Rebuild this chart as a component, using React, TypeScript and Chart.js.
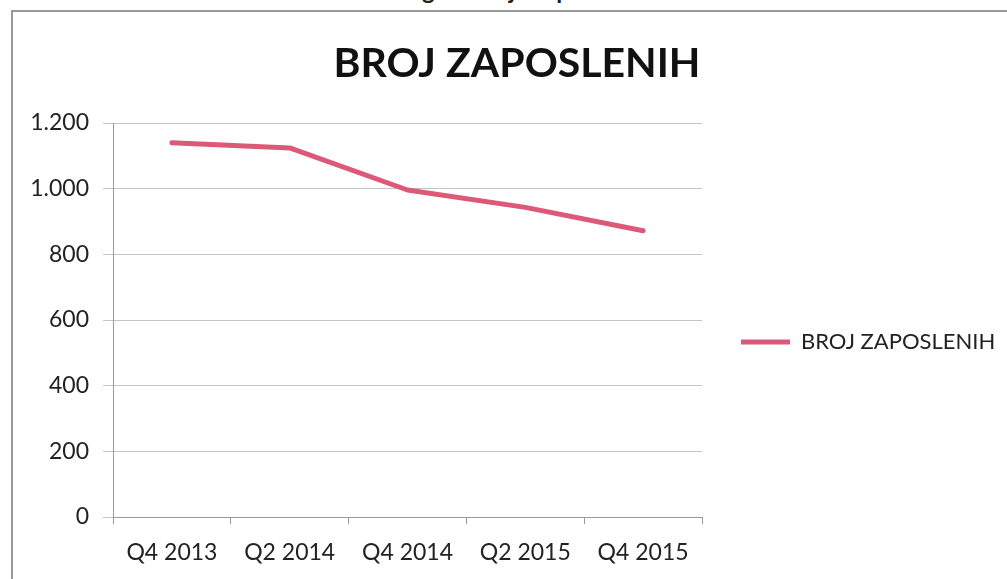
import React, { useEffect, useRef } from "react";
import { Chart, registerables } from "chart.js";

Chart.register(...registerables);

// ---- data ----
const categories = ["Q4 2013", "Q2 2014", "Q4 2014", "Q2 2015", "Q4 2015"];
const employees = [1140, 1124, 996, 943, 872];
const seriesName = "BROJ ZAPOSLENIH";
const chartTitle = "BROJ ZAPOSLENIH";
const caption = "Pregled broja zaposlenih";
const yMin = 0;
const yMax = 1200;
const yStep = 200;

// ---- layout ----
const W = 1007;
const H = 579;
const PLOT = { left: 113, right: 702, top: 123, bottom: 517 };
const TITLE_CENTER_X = 517;
const TITLE_CENTER_Y = 64;
const TITLE_SIZE = 41;
const LEGEND_BOX_X = 741;
const LEGEND_CENTER_Y = 342;
const LEGEND_PAD = 10;
const LEGEND_FONT = 22;

const LINE_COLOR = "#dc5a78";
const TEXT_COLOR = "#222222";
const GRID_COLOR = "#c4c4c4";
const AXIS_COLOR = "#9a9a9a";
const FONT = "Lato, 'Open Sans', sans-serif";

const fmt = (v: number) => String(Math.round(v)).replace(/\B(?=(\d{3})+(?!\d))/g, ".");

const boxPlacer = {
  id: "boxPlacer",
  afterLayout(chart: any) {
    const lg = chart.legend;
    if (lg) {
      const h = lg.height;
      lg.left = LEGEND_BOX_X - LEGEND_PAD;
      lg.right = W;
      lg.width = lg.right - lg.left;
      lg.top = LEGEND_CENTER_Y - LEGEND_PAD - LEGEND_FONT / 2;
      lg.bottom = lg.top + h;
    }
    const tb = chart.titleBlock;
    if (tb) {
      const half = Math.min(TITLE_CENTER_X, W - TITLE_CENTER_X);
      tb.left = TITLE_CENTER_X - half;
      tb.right = TITLE_CENTER_X + half;
      tb.width = tb.right - tb.left;
    }
  },
};

function buildChart(canvas: HTMLCanvasElement) {
  const titleLine = TITLE_SIZE * 1.2;
  const padTop = TITLE_CENTER_Y - titleLine / 2;
  const padBottom = PLOT.top - padTop - titleLine;

  const options: any = {
    animation: false,
    responsive: false,
    devicePixelRatio: 1,
    layout: { padding: { left: 0, right: W - PLOT.right, top: 0, bottom: 0 } },
    plugins: {
      title: {
        display: true,
        text: chartTitle,
        color: "#111111",
        font: { family: FONT, size: TITLE_SIZE, weight: "bold", lineHeight: 1.2 },
        padding: { top: padTop, bottom: padBottom },
      },
      legend: {
        display: true,
        position: "chartArea",
        align: "start",
        labels: {
          boxWidth: 49,
          boxHeight: 5,
          padding: LEGEND_PAD,
          color: TEXT_COLOR,
          font: { family: FONT, size: LEGEND_FONT },
          generateLabels: () => [
            {
              text: seriesName,
              fillStyle: LINE_COLOR,
              strokeStyle: LINE_COLOR,
              lineWidth: 0,
              hidden: false,
              datasetIndex: 0,
              fontColor: TEXT_COLOR,
            },
          ],
        },
      },
      tooltip: { enabled: false },
    },
    scales: {
      x: {
        type: "category",
        offset: true,
        afterFit: (s: any) => {
          s.height = H - PLOT.bottom;
        },
        grid: {
          display: true,
          offset: true,
          drawOnChartArea: false,
          drawTicks: true,
          tickLength: 7,
          color: AXIS_COLOR,
        },
        border: { display: true, color: AXIS_COLOR, width: 1 },
        ticks: {
          color: TEXT_COLOR,
          font: { family: FONT, size: 23 },
          padding: 15,
          maxRotation: 0,
          autoSkip: false,
        },
      },
      y: {
        min: yMin,
        max: yMax,
        afterFit: (s: any) => {
          s.width = PLOT.left;
        },
        grid: {
          color: GRID_COLOR,
          tickLength: 10,
          drawTicks: true,
        },
        border: { display: true, color: AXIS_COLOR, width: 1 },
        ticks: {
          stepSize: yStep,
          color: TEXT_COLOR,
          font: { family: FONT, size: 23 },
          padding: 14,
          callback: (v: any) => fmt(Number(v)),
        },
      },
    },
  };

  return new Chart(canvas, {
    type: "line",
    data: {
      labels: categories,
      datasets: [
        {
          label: seriesName,
          data: employees,
          borderColor: LINE_COLOR,
          backgroundColor: LINE_COLOR,
          borderWidth: 5,
          pointRadius: 0,
          pointHoverRadius: 0,
          tension: 0,
          borderCapStyle: "round",
          borderJoinStyle: "round",
          fill: false,
        },
      ],
    },
    options,
    plugins: [boxPlacer],
  });
}

export default function App() {
  const ref = useRef<HTMLCanvasElement | null>(null);

  useEffect(() => {
    if (!ref.current) return;
    const chart = buildChart(ref.current);
    return () => chart.destroy();
  }, []);

  return (
    <div style={{ position: "fixed", left: 0, top: 0, width: W, height: H, background: "#ffffff", overflow: "hidden" }}>
      <div
        style={{
          position: "absolute",
          left: 0,
          top: -22,
          width: 2 * 516,
          textAlign: "center",
          fontFamily: FONT,
          fontWeight: "bold",
          fontSize: 24,
          lineHeight: "24px",
          color: TEXT_COLOR,
          whiteSpace: "nowrap",
        }}
      >
        {caption}
      </div>
      <div
        style={{
          position: "absolute",
          left: 11,
          top: 10,
          width: 1200,
          height: 800,
          borderLeft: "2px solid #999999",
          borderTop: "2px solid #999999",
        }}
      />
      <canvas ref={ref} width={W} height={H} style={{ position: "absolute", left: 0, top: 0, width: W, height: H }} />
    </div>
  );
}
